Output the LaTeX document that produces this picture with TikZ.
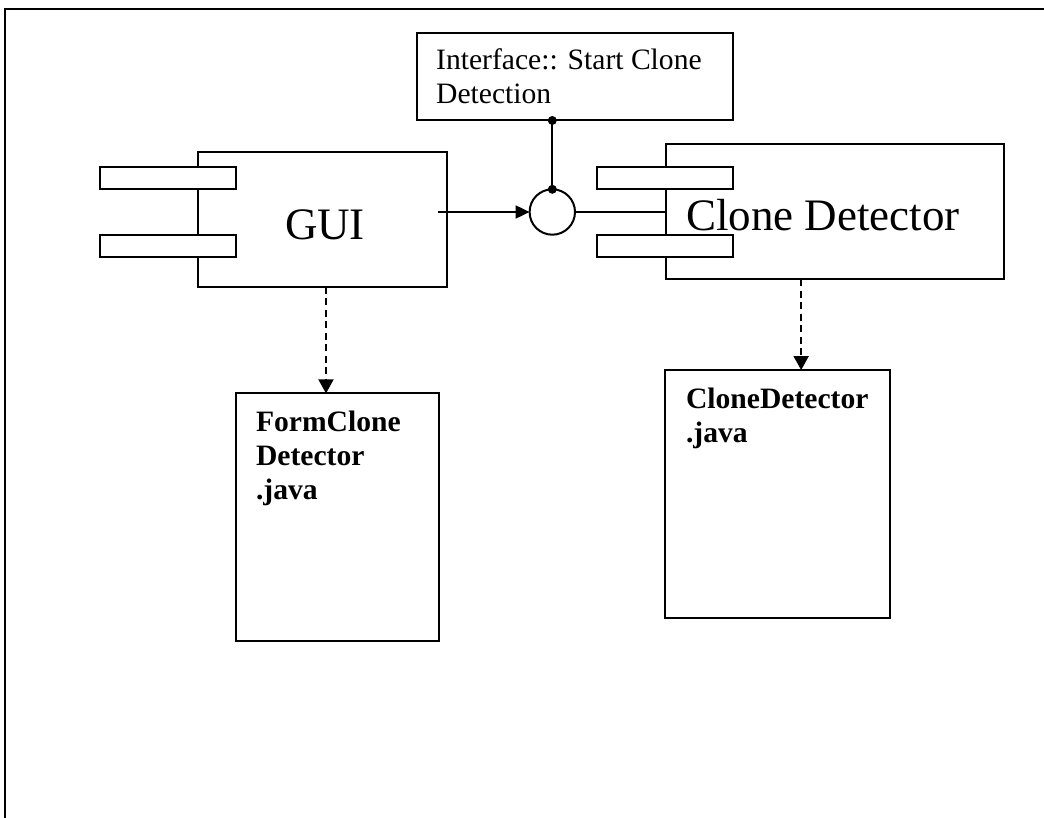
\documentclass[tikz,border=0pt]{standalone}
\usepackage{fontspec}
\setmainfont{Liberation Serif}
\usetikzlibrary{arrows.meta,calc}
\newcommand\stacktext[1]{\begin{tabular}[t]{@{}l@{}}#1\end{tabular}}
\begin{document}
\begin{tikzpicture}[x=1pt,y=-1pt,
  every node/.style={inner sep=0pt,outer sep=0pt},
  outlined/.style={draw,line width=2pt,fill=white,rectangle},
  body/.style={outlined},
  tab/.style={outlined,minimum width=136pt,minimum height=22.4pt},
  filebox/.style={outlined},
  lolly/.style={draw,line width=2pt,fill=white,circle,minimum size=45.4pt},
  bigname/.style={font=\fontsize{45}{52}\selectfont},
  smalltext/.style={font=\fontsize{29.6}{34}\selectfont},
  boldtext/.style={font=\fontsize{29.6}{34}\selectfont\bfseries},
  link/.style={line width=2pt},
  call/.style={link,-{Triangle[length=14pt,width=13pt]}},
  dep/.style={link,dash pattern=on 7pt off 4.5pt,-{Triangle[length=14pt,width=15pt]}},
  dot/.style={fill=black}]
\useasboundingbox (0,0) rectangle (1044,818);

% page frame (top and left edges)
\draw[line width=2pt] (5,818) -- (5,9) -- (1044,9);

% GUI component
\node[body,minimum width=249pt,minimum height=134.7pt] (gui) at (322.8,219.3) {};
\node[tab] (guitabA) at (168,178.3) {};
\node[tab] (guitabB) at (168,246.2) {};
\node[bigname,anchor=base west] (guiname) at (285,239.3) {GUI};

% Clone Detector component
\node[body,minimum width=338.6pt,minimum height=135.3pt] (cd) at (835,211.7) {};
\node[tab] (cdtabA) at (665.3,178) {};
\node[tab] (cdtabB) at (665.3,246.2) {};
\node[bigname,anchor=base west] (cdname) at (686,231) {Clone Detector};

% provided interface
\node[filebox,minimum width=316.3pt,minimum height=87.5pt] (iface) at (574.85,76.75) {};
\node[smalltext,anchor=base west] (ifacetext) at ($(iface.north west)+(19.5,36.6)$)
  {\stacktext{Interface:: Start Clone\\Detection}};
\node[lolly] (ball) at (552.3,212) {};

% source files
\node[filebox,minimum width=203.6pt,minimum height=247.7pt] (form) at (337.5,517.2) {};
\node[boldtext,anchor=base west] (formtext) at ($(form.north west)+(20.3,38.4)$)
  {\stacktext{FormClone\\Detector\\.java}};
\node[filebox,minimum width=225pt,minimum height=248.3pt] (cdjava) at (777.5,494.2) {};
\node[boldtext,anchor=base west] (cdjavatext) at ($(cdjava.north west)+(21,38.3)$)
  {\stacktext{CloneDetector\\.java}};

% connectors
\coordinate (guiout) at (438,212);
\draw[call] (guiout) -- (ball.west);
\draw[link] (ball.east) -- (ball.east -| cd.west);
\coordinate (ifacefoot) at (iface.south -| ball.north);
\draw[link] (ifacefoot) -- (ball.north);
\fill[dot] (ifacefoot) circle (4.5pt);
\fill[dot] (ball.north) circle (4.5pt);

\coordinate (guifoot) at ($(gui.south)+(3.2,0)$);
\draw[dep] (guifoot) -- (guifoot |- form.north);
\coordinate (cdfoot) at ($(cd.south west)!0.4!(cd.south east)$);
\draw[dep] (cdfoot) -- (cdfoot |- cdjava.north);
\end{tikzpicture}
\end{document}
